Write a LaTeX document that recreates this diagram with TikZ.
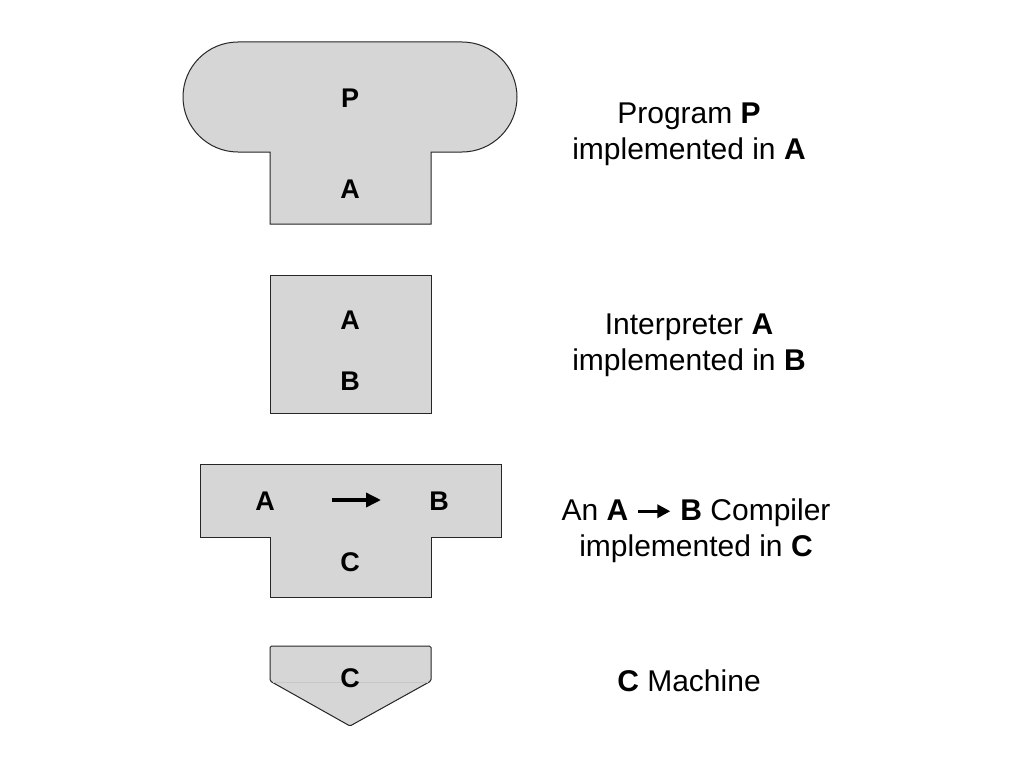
\documentclass[tikz,border=0pt]{standalone}
\usepackage{fontspec}
\setmainfont{Liberation Sans}
\usetikzlibrary{arrows.meta}
\definecolor{boxgray}{RGB}{214,214,214}
\tikzset{>={Triangle[width=14pt,length=15pt]}}
\tikzset{
  shapebox/.style={fill=boxgray, draw=black!85, line width=1pt},
  boxlabel/.style={font=\fontsize{27}{30}\selectfont\bfseries},
  desc/.style={font=\fontsize{30}{36}\selectfont, align=center}
}
\newcommand\txtarrow{\tikz[baseline=-0.6ex]\draw[line width=3.5pt,-{Triangle[width=13pt,length=13pt]}] (0pt,0pt) -- (32pt,0pt);}

\begin{document}
\begin{tikzpicture}[x=1pt, y=-1pt]

  %% <spacing>
  \useasboundingbox (0,0) rectangle (1024,768);
  % </spacing>

  %% program P in A
  \draw[shapebox] (238,42) -- (462,42) arc (-90:90:55) -- (431,152) -- (431,224)
    -- (270,224) -- (270,152) -- (238,152) arc (90:270:55) -- cycle;
  \node[boxlabel] (progP) at (350,98) {P};
  \node[boxlabel] (progA) at (350,189) {A};
  \node[desc] (progtxt) at (689,134) {Program \textbf{P}\\implemented in \textbf{A}};

  %% interpreter A in B
  \draw[shapebox] (270,275) rectangle (431,413);
  \node[boxlabel] (intA) at (350,320) {A};
  \node[boxlabel] (intB) at (350,381) {B};
  \node[desc] (inttxt) at (689,345) {Interpreter \textbf{A}\\implemented in \textbf{B}};

  %% compiler A->B in C
  \draw[shapebox] (200,464) -- (501,464) -- (501,537) -- (431,537) -- (431,597)
    -- (270,597) -- (270,537) -- (200,537) -- cycle;
  \node[boxlabel] (compA) at (265,501) {A};
  \node[boxlabel] (compB) at (439,501) {B};
  \node[boxlabel] (compC) at (350,562) {C};
  \coordinate (arrS) at (332,500);
  \coordinate (arrE) at (381,500);
  \draw[->, line width=3.5pt] (arrS) -- (arrE); % A->B
  \node[desc] (comptxt) at (696,531) {An \textbf{A} \txtarrow\ \textbf{B} Compiler\\implemented in \textbf{C}};

  %% machine C
  \draw[shapebox, rounded corners=1.5pt] (270,646) -- (431,646) -- (431,681)
    -- (350,726) -- (270,681) -- cycle;
  \draw[black!22, line width=0.8pt] (273,682) -- (428,682);
  \node[boxlabel] (machC) at (350,678) {C};
  \node[desc] (machtxt) at (689,681) {\textbf{C} Machine};

\end{tikzpicture}
\end{document}
